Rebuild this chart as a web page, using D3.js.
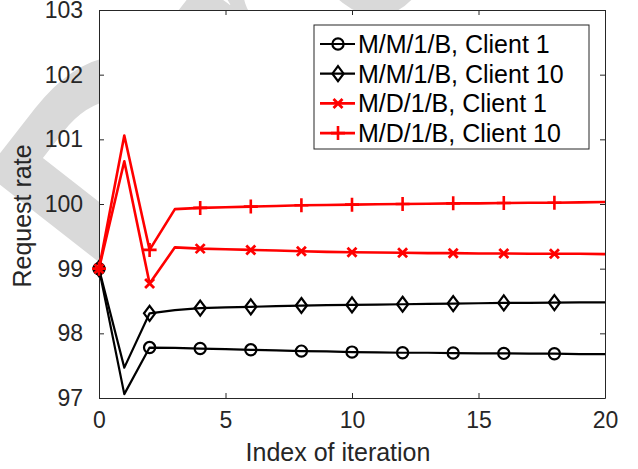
<!DOCTYPE html>
<html>
<head>
<meta charset="utf-8">
<script src="https://cdn.jsdelivr.net/npm/d3@7"></script>
<style>
  body { margin: 0; background: #fff; }
  text { font-family: "Liberation Sans", Arial, sans-serif; }
</style>
</head>
<body>
<div id="chart"></div>
<script>
// data
var iterations = d3.range(0, 21);
var mm1Client1 = [99, 97.06, 97.78, 97.775, 97.765, 97.755, 97.745, 97.735, 97.725, 97.72, 97.71, 97.705, 97.70, 97.70, 97.695, 97.69, 97.69, 97.685, 97.685, 97.68, 97.68];
var mm1Client10 = [99, 97.47, 98.31, 98.36, 98.39, 98.40, 98.41, 98.42, 98.43, 98.435, 98.44, 98.445, 98.45, 98.455, 98.46, 98.465, 98.47, 98.47, 98.475, 98.48, 98.48];
var md1Client1 = [99, 100.66, 98.77, 99.33, 99.31, 99.30, 99.29, 99.28, 99.27, 99.26, 99.255, 99.25, 99.245, 99.24, 99.24, 99.235, 99.235, 99.23, 99.23, 99.23, 99.225];
var md1Client10 = [99, 101.06, 99.29, 99.92, 99.94, 99.95, 99.96, 99.97, 99.98, 99.985, 99.99, 99.995, 100.0, 100.005, 100.01, 100.01, 100.015, 100.02, 100.02, 100.025, 100.03];
var xTicks = [0, 5, 10, 15, 20];
var yTicks = [97, 98, 99, 100, 101, 102, 103];

var series = [
  {name: "M/M/1/B, Client 1", values: mm1Client1, color: "#000", marker: "circle", lw: 2.2},
  {name: "M/M/1/B, Client 10", values: mm1Client10, color: "#000", marker: "diamond", lw: 2.2},
  {name: "M/D/1/B, Client 1", values: md1Client1, color: "#ff0000", marker: "x", lw: 2.6},
  {name: "M/D/1/B, Client 10", values: md1Client10, color: "#ff0000", marker: "plus", lw: 2.6}
];

var W = 638, H = 469;
var margin = {top: 10, right: 33, bottom: 71, left: 99};
var width = W - margin.left - margin.right, height = H - margin.top - margin.bottom;
var axisColor = "#262626";

var svg = d3.select("#chart").append("svg")
  .attr("width", W)
  .attr("height", H);

// faint watermark behind the figure
svg.append("text")
  .attr("transform", "translate(150,330) rotate(-52)")
  .attr("font-size", 330)
  .attr("font-weight", "bold")
  .attr("fill", "#d9d9d9")
  .text("Draft");

var g = svg.append("g")
  .attr("transform", "translate(" + margin.left + "," + margin.top + ")");

g.append("rect")
  .attr("width", width)
  .attr("height", height)
  .attr("fill", "#fff");

var x = d3.scaleLinear().domain([0, 20]).range([0, width]);
var y = d3.scaleLinear().domain([97, 103]).range([height, 0]);

function styleAxis(sel) {
  sel.select(".domain").attr("stroke", axisColor).attr("stroke-width", 1);
  sel.selectAll(".tick line").attr("stroke", axisColor);
  sel.selectAll(".tick text").attr("fill", axisColor).attr("font-size", 23)
    .style("font-family", "'Liberation Sans', Arial, sans-serif");
}

// axes with inward ticks, box on all sides
var tl = 5;
g.append("g").attr("transform", "translate(0," + height + ")")
  .call(d3.axisBottom(x).tickValues(xTicks).tickSizeInner(-tl).tickSizeOuter(0).tickPadding(14).tickFormat(d3.format("d")))
  .call(styleAxis);
g.append("g")
  .call(d3.axisTop(x).tickValues(xTicks).tickSizeInner(-tl).tickSizeOuter(0).tickFormat(""))
  .call(styleAxis);
g.append("g")
  .call(d3.axisLeft(y).tickValues(yTicks).tickSizeInner(-tl).tickSizeOuter(0).tickPadding(16).tickFormat(d3.format("d")))
  .call(styleAxis);
g.append("g").attr("transform", "translate(" + width + ",0)")
  .call(d3.axisRight(y).tickValues(yTicks).tickSizeInner(-tl).tickSizeOuter(0).tickFormat(""))
  .call(styleAxis);

var line = d3.line().x(function(d, i) { return x(iterations[i]); }).y(function(d) { return y(d); });

function drawMarker(sel, type, color) {
  if (type === "circle") {
    sel.append("circle").attr("r", 5.6).attr("fill", "none").attr("stroke", color).attr("stroke-width", 2.2);
  } else if (type === "diamond") {
    sel.append("path").attr("d", "M0,-7.5L5.6,0L0,7.5L-5.6,0Z").attr("fill", "none").attr("stroke", color).attr("stroke-width", 2.2);
  } else if (type === "x") {
    sel.append("path").attr("d", "M-4.5,-4.5L4.5,4.5M-4.5,4.5L4.5,-4.5").attr("stroke", color).attr("stroke-width", 2.8);
  } else {
    sel.append("path").attr("d", "M-7,0L7,0M0,-7L0,7").attr("stroke", color).attr("stroke-width", 2.6);
  }
}

var markerIdx = d3.range(0, 20, 2);

series.forEach(function(s) {
  g.append("path")
    .attr("d", line(s.values))
    .attr("fill", "none")
    .attr("stroke", s.color)
    .attr("stroke-width", s.lw)
    .attr("stroke-linejoin", "round");
  markerIdx.forEach(function(i) {
    var m = g.append("g").attr("transform", "translate(" + x(iterations[i]) + "," + y(s.values[i]) + ")");
    drawMarker(m, s.marker, s.color);
  });
});

// axis labels
svg.append("text")
  .attr("x", 338).attr("y", 461)
  .attr("text-anchor", "middle")
  .attr("font-size", 25)
  .attr("fill", axisColor)
  .text("Index of iteration");
svg.append("text")
  .attr("transform", "translate(31,216) rotate(-90)")
  .attr("text-anchor", "middle")
  .attr("font-size", 25)
  .attr("fill", axisColor)
  .text("Request rate");

// legend
var lg = svg.append("g").attr("transform", "translate(314,25)");
lg.append("rect")
  .attr("width", 275).attr("height", 124)
  .attr("fill", "#fff")
  .attr("stroke", axisColor).attr("stroke-width", 1);
series.forEach(function(s, i) {
  var row = lg.append("g").attr("transform", "translate(0," + (19 + i * 29.7) + ")");
  row.append("line").attr("x1", 6).attr("x2", 41).attr("stroke", s.color).attr("stroke-width", s.lw);
  drawMarker(row.append("g").attr("transform", "translate(24,0)"), s.marker, s.color);
  row.append("text")
    .attr("x", 44).attr("y", 9)
    .attr("font-size", 25)
    .attr("fill", "#000")
    .text(s.name);
});
</script>
</body>
</html>
